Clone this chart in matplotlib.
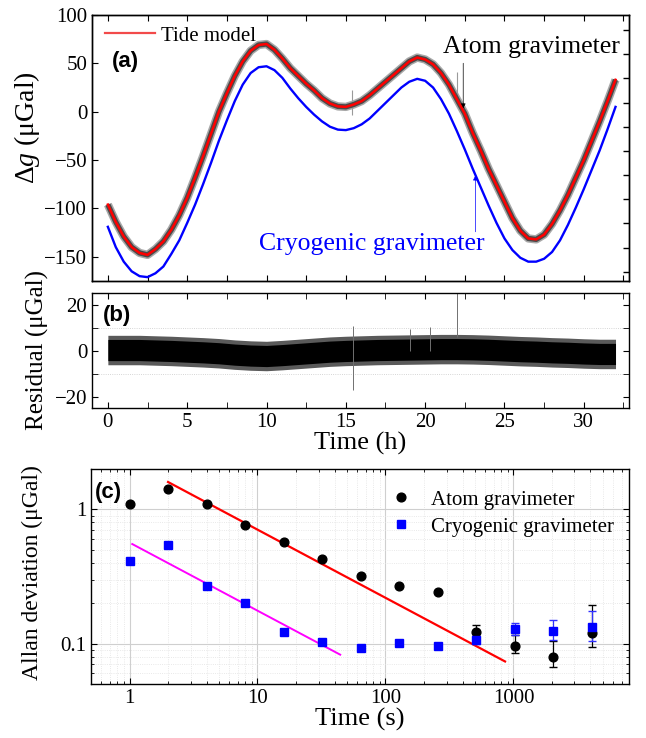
import numpy as np
import matplotlib
matplotlib.use("Agg")
import matplotlib.pyplot as plt
from matplotlib.ticker import MultipleLocator, NullFormatter, LogLocator, FixedLocator

plt.rcParams["font.family"] = ["Liberation Serif", "DejaVu Serif"]
plt.rcParams["mathtext.fontset"] = "custom"
plt.rcParams["mathtext.rm"] = "Liberation Serif"
plt.rcParams["mathtext.it"] = "Liberation Serif:italic"
plt.rcParams["axes.linewidth"] = 1.0
for a in ("x", "y"):
    plt.rcParams[f"{a}tick.direction"] = "in"
    plt.rcParams[f"{a}tick.major.size"] = 4
    plt.rcParams[f"{a}tick.minor.size"] = 2.5
    plt.rcParams[f"{a}tick.labelsize"] = 15

hours = np.arange(0, 32.5, 0.5)
tide_model = [-96, -114, -129, -140, -146, -148, -142, -134, -122, -107,
              -89, -68, -46, -23, 0, 19, 37, 52, 63, 69,
              70, 64, 55, 45, 37, 29, 22, 14, 8.5, 5.5,
              5, 7.5, 11, 17, 24, 31, 38, 45, 52, 56,
              54, 49, 40, 28, 13, -2, -22, -40, -59, -76,
              -93, -110, -123, -131, -132, -127, -116, -102, -86, -68,
              -50, -30, -10, 11, 33]
cryo_g = [-119, -140, -155, -165, -170, -171, -167, -160, -147, -133,
          -115, -96, -75, -53, -30, -9, 11, 28, 40, 46,
          47, 43, 35, 24, 14, 5, -3, -10, -15.5, -18.5,
          -19, -17, -13, -7, 1, 9, 17, 25, 31, 34,
          32, 25, 13, -2, -20, -39, -59, -78, -97, -115,
          -131, -143, -151, -155, -155, -152, -145, -133, -117, -99,
          -80, -60, -40, -18, 5]
# atom gravimeter outliers (time h, low, high)
atom_spike_t = [15.4, 22.0]
atom_spike_lo = [-3, 10]
atom_spike_hi = [22, 41]

# --- (b) residual envelope, hourly ---
res_t = np.arange(0, 33, 1)
res_core_hi = [4.8, 4.8, 4.8, 4.6, 4.4, 4.1, 3.8, 3.4, 2.8, 2.4, 2.2, 2.6, 3.1, 3.6, 4.1, 4.4, 4.6,
               4.8, 4.9, 5.0, 5.1, 5.2, 5.2, 5.1, 4.9, 4.6, 4.3, 4.1, 3.8, 3.6, 3.3, 3.1, 3.1]
res_core_lo = [-4.4, -4.4, -4.4, -4.6, -4.8, -5.1, -5.4, -5.8, -6.4, -6.8, -7.0, -6.6, -6.1, -5.6, -5.1, -4.8, -4.6,
               -4.4, -4.3, -4.2, -4.1, -4.0, -4.0, -4.1, -4.3, -4.6, -4.9, -5.1, -5.4, -5.6, -5.9, -6.1, -6.1]
res_out_hi = [6.6, 6.6, 6.6, 6.4, 6.2, 5.9, 5.6, 5.2, 4.6, 4.2, 4.0, 4.4, 4.9, 5.4, 5.9, 6.2, 6.4,
              6.6, 6.7, 6.8, 6.9, 7.0, 7.0, 6.9, 6.7, 6.4, 6.1, 5.9, 5.6, 5.4, 5.1, 4.9, 4.9]
res_out_lo = [-6.2, -6.2, -6.2, -6.4, -6.6, -6.9, -7.2, -7.6, -8.2, -8.6, -8.8, -8.4, -7.9, -7.4, -6.9, -6.6, -6.4,
              -6.2, -6.1, -6.0, -5.9, -5.8, -5.8, -5.9, -6.1, -6.4, -6.7, -6.9, -7.2, -7.4, -7.7, -7.9, -7.9]
res_spike_t = [15.46, 19.07, 20.3, 22.0]
res_spike_lo = [-17, 0, 0, 6]
res_spike_hi = [10.7, 9.5, 10.3, 26]

# --- (c) Allan deviation ---
tau = [1, 2, 4, 8, 16, 32, 64, 128, 256, 512, 1024, 2048, 4096]
adev_atom = [1.10, 1.41, 1.09, 0.76, 0.568, 0.426, 0.319, 0.268, 0.241, 0.122, 0.0966, 0.0798, 0.120]
adev_cryo = [0.414, 0.539, 0.27, 0.202, 0.123, 0.102, 0.0928, 0.1005, 0.0954, 0.1066, 0.1274, 0.125, 0.1326]
err_tau = [512, 1024, 2048, 4096]
atom_err_lo = [0.110, 0.0846, 0.0664, 0.0938]
atom_err_hi = [0.137, 0.115, 0.105, 0.195]
cryo_err_lo = [0.100, 0.115, 0.107, 0.104]
cryo_err_hi = [0.114, 0.143, 0.149, 0.175]
fit_atom_tau = [2, 860]
fit_atom_val = [1.60, 0.0736]
fit_cryo_tau = [1.05, 44.3]
fit_cryo_val = [0.552, 0.0827]

W, H = 646, 738
fig = plt.figure(figsize=(W / 100, H / 100), dpi=100)


def frac(l, t, r, b):
    return [l / W, 1 - b / H, (r - l) / W, (b - t) / H]


# ---------------- (a) ----------------
ax = fig.add_axes(frac(92, 15, 629, 281))
ax.plot(hours, tide_model, color="#a8a8a8", lw=6.0, solid_capstyle="butt", zorder=1)
ax.plot(hours, tide_model, color="#4a4a4a", lw=3.8, solid_capstyle="butt", zorder=2)
ax.vlines(atom_spike_t, atom_spike_lo, atom_spike_hi, color="#9a9a9a", lw=0.8, zorder=1)
ax.plot(hours, cryo_g, color="#0000ff", lw=1.7, zorder=3)
ax.plot(hours, tide_model, color="#ff0000", lw=1.8, zorder=4)
ax.plot([], [], color="#f24a4a", lw=1.6, label="Tide model")
ax.set_xlim(-1, 32.85)
ax.set_ylim(-175, 100)
ax.xaxis.set_major_locator(MultipleLocator(2.5))
ax.xaxis.set_major_formatter(NullFormatter())
ax.yaxis.set_major_locator(MultipleLocator(50))
ax.tick_params(top=True, right=False)
# right-hand axis of the original has its own (offset) tick grid
rx = ax.twinx()
rx.set_ylim(-175 - 9.5, 100 - 9.5)
rx.yaxis.set_major_locator(MultipleLocator(25))
rx.yaxis.set_major_formatter(NullFormatter())
rx.tick_params(direction="in", length=4.5, width=1)
ax.set_ylabel(r"Δ$\mathit{g}$ (μGal)", fontsize=20)
ax.yaxis.set_label_coords(-0.093, 0.575)
ax.legend(loc="upper left", bbox_to_anchor=(0.0, 1.005), frameon=False, fontsize=15,
          handlelength=2.4, handletextpad=0.3, borderaxespad=0.2)
ax.text(0.037, 0.825, "(a)", transform=ax.transAxes, fontsize=16, fontweight="bold",
        family="Liberation Sans", va="center", ha="left")
ax.annotate("", xy=(22.4, 0.5), xytext=(22.4, 53),
            arrowprops=dict(arrowstyle="-|>", color="black", lw=0.5, mutation_scale=7))
ax.text(32.3, 66.5, "Atom gravimeter", fontsize=18.5, ha="right", va="center")
ax.annotate("", xy=(23.17, -63), xytext=(23.17, -127),
            arrowprops=dict(arrowstyle="-|>", color="#0000ff", lw=0.5, mutation_scale=7))
ax.text(9.5, -137, "Cryogenic gravimeter", fontsize=18.5, color="#0000ff", ha="left", va="center")

# ---------------- (b) ----------------
bx = fig.add_axes(frac(92, 293, 629, 408))
bx.fill_between(res_t, res_out_lo, res_out_hi, color="#5a5a5a", lw=0)
bx.fill_between(res_t, res_core_lo, res_core_hi, color="black", lw=0)
bx.vlines(res_spike_t, res_spike_lo, res_spike_hi, color="#707070", lw=0.7)
bx.set_xlim(-1, 32.85)
bx.set_ylim(-25, 25)
bx.xaxis.set_major_locator(MultipleLocator(5))
bx.xaxis.set_minor_locator(MultipleLocator(2.5))
bx.yaxis.set_major_locator(MultipleLocator(20))
bx.yaxis.set_minor_locator(MultipleLocator(10))
bx.tick_params(which="both", top=True, right=True)
bx.tick_params(which="minor", length=4)
bx.grid(which="minor", axis="y", color="#c8c8c8", lw=0.6, ls=":")
bx.set_ylabel("Residual (μGal)", fontsize=18)
bx.yaxis.set_label_coords(-0.08, 0.5)
bx.set_xlabel("Time (h)", fontsize=19, labelpad=0)
bx.text(0.02, 0.8, "(b)", transform=bx.transAxes, fontsize=16, fontweight="bold",
        family="Liberation Sans", va="center", ha="left")

# ---------------- (c) ----------------
cx = fig.add_axes(frac(91, 469, 629, 684))
cx.set_xscale("log")
cx.set_yscale("log")
cx.set_xlim(0.5, 8000)
cx.set_ylim(0.05, 2)
cx.grid(which="major", color="#cfcfcf", lw=0.8)
cx.grid(which="minor", color="#e2e2e2", lw=0.6, ls=":")
cx.plot(fit_atom_tau, fit_atom_val, color="#ff0000", lw=1.6, zorder=3)
cx.plot(fit_cryo_tau, fit_cryo_val, color="#ff00ff", lw=1.4, zorder=3)
idx = [tau.index(t) for t in err_tau]
ya = np.array([adev_atom[i] for i in idx])
yc = np.array([adev_cryo[i] for i in idx])
cx.errorbar(err_tau, ya, yerr=[ya - np.array(atom_err_lo), np.array(atom_err_hi) - ya],
            fmt="none", ecolor="black", elinewidth=0.9, capsize=3, zorder=4)
cx.errorbar(err_tau, yc, yerr=[yc - np.array(cryo_err_lo), np.array(cryo_err_hi) - yc],
            fmt="none", ecolor="#3030ff", elinewidth=0.9, capsize=3, zorder=4)
cx.plot(tau, adev_atom, "o", color="black", ms=6.3, ls="none", zorder=5, label="Atom gravimeter")
cx.plot(tau, adev_cryo, "s", color="#0000ff", ms=5.6, ls="none", zorder=5, label="Cryogenic gravimeter")
cx.xaxis.set_major_locator(FixedLocator([1, 10, 100, 1000]))
cx.set_xticklabels(["1", "10", "100", "1000"])
cx.xaxis.set_minor_locator(LogLocator(base=10, subs=np.arange(2, 10), numticks=20))
cx.xaxis.set_minor_formatter(NullFormatter())
cx.yaxis.set_major_locator(FixedLocator([0.1, 1]))
cx.set_yticklabels(["0.1", "1"])
cx.yaxis.set_minor_locator(LogLocator(base=10, subs=np.arange(2, 10), numticks=20))
cx.yaxis.set_minor_formatter(NullFormatter())
cx.tick_params(which="both", top=True, right=True)
cx.set_ylabel("Allan deviation (μGal)", fontsize=17)
cx.yaxis.set_label_coords(-0.09, 0.52)
cx.set_xlabel("Time (s)", fontsize=19, labelpad=0)
cx.legend(loc="upper left", bbox_to_anchor=(0.515, 0.96), frameon=False, fontsize=15,
          handletextpad=0.4, labelspacing=0.35, borderaxespad=0.2)
cx.text(0.008, 0.89, "(c)", transform=cx.transAxes, fontsize=16, fontweight="bold",
        family="Liberation Sans", va="center", ha="left")

fig.savefig("out.png", dpi=100)
